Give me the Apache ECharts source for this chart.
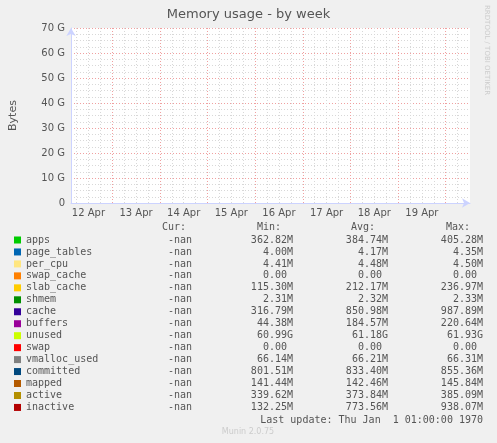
<!DOCTYPE html>
<html><head><meta charset="utf-8">
<script src="https://cdn.jsdelivr.net/npm/echarts@6/dist/echarts.min.js"></script>
<style>html,body{margin:0;padding:0;background:#f0f0f0}#c{width:497px;height:443px}</style>
</head><body><div id="c"></div>
<script>
const names=['apps','page_tables','per_cpu','swap_cache','slab_cache','shmem','cache','buffers','unused','swap','vmalloc_used','committed','mapped','active','inactive'];
const colors=['#00cc00','#0066b3','#ffe680','#ff8000','#ffcc00','#008f00','#330099','#990099','#ccff00','#ff0000','#808080','#00487d','#b35a00','#b38f00','#b30000'];
const curVals=Array(15).fill('-nan');
const minVals=['362.82M','4.00M','4.41M','0.00','115.30M','2.31M','316.79M','44.38M','60.99G','0.00','66.14M','801.51M','141.44M','339.62M','132.25M'];
const avgVals=['384.74M','4.17M','4.48M','0.00','212.17M','2.32M','850.98M','184.57M','61.18G','0.00','66.21M','833.40M','142.46M','373.84M','773.56M'];
const maxVals=['405.28M','4.35M','4.50M','0.00','236.97M','2.33M','987.89M','220.64M','61.93G','0.00','66.31M','855.36M','145.84M','385.09M','938.07M'];
const dayLabels=['12 Apr','13 Apr','14 Apr','15 Apr','16 Apr','17 Apr','18 Apr','19 Apr'];
const dayLines=[1,2,3,4,5,6,7,8];
const labelPos=[0.5,1.5,2.5,3.5,4.5,5.5,6.5,7.5];
const quarterLines=[];for(let d=0.25;d<8.5;d+=0.25){if(Math.abs(d-Math.round(d))>0.01)quarterLines.push(d);}
const xMin=0.135,xMax=8.51;

const mono='"DejaVu Sans Mono", monospace';
const g=[];
function pad(s){return /[MG]$/.test(s)?s:s+' ';}
g.push({type:'text',style:{text:'Cur:',x:186,y:227,align:'right',verticalAlign:'middle',font:'10px '+mono,fill:'#555'}});
g.push({type:'text',style:{text:'Min:',x:281,y:227,align:'right',verticalAlign:'middle',font:'10px '+mono,fill:'#555'}});
g.push({type:'text',style:{text:'Avg:',x:375,y:227,align:'right',verticalAlign:'middle',font:'10px '+mono,fill:'#555'}});
g.push({type:'text',style:{text:'Max:',x:470,y:227,align:'right',verticalAlign:'middle',font:'10px '+mono,fill:'#555'}});
names.forEach((n,i)=>{
  const y=240+i*11.96;
  g.push({type:'rect',shape:{x:14,y:y-3.5,width:7,height:7},style:{fill:colors[i]}});
  g.push({type:'text',style:{text:n,x:26,y:y,verticalAlign:'middle',font:'10px '+mono,fill:'#555'}});
  g.push({type:'text',style:{text:curVals[i],x:192,y:y,align:'right',verticalAlign:'middle',font:'10px '+mono,fill:'#555'}});
  g.push({type:'text',style:{text:pad(minVals[i]),x:293,y:y,align:'right',verticalAlign:'middle',font:'10px '+mono,fill:'#555'}});
  g.push({type:'text',style:{text:pad(avgVals[i]),x:388,y:y,align:'right',verticalAlign:'middle',font:'10px '+mono,fill:'#555'}});
  g.push({type:'text',style:{text:pad(maxVals[i]),x:483,y:y,align:'right',verticalAlign:'middle',font:'10px '+mono,fill:'#555'}});
});
g.push({type:'text',style:{text:'Last update: Thu Jan  1 01:00:00 1970',x:483,y:420,align:'right',verticalAlign:'middle',font:'10px '+mono,fill:'#555'}});
g.push({type:'text',style:{text:'Munin 2.0.75',x:248,y:432,align:'center',verticalAlign:'middle',font:'8px "DejaVu Sans"',fill:'#ccc'}});
g.push({type:'text',rotation:-Math.PI/2,x:487,y:5,style:{text:'RRDTOOL / TOBI OETIKER',x:0,y:0,align:'left',verticalAlign:'middle',font:'7px "DejaVu Sans"',fill:'#ccc'}});

const chart=echarts.init(document.getElementById('c'));
chart.setOption({
  backgroundColor:'#f0f0f0',animation:false,
  title:{text:'Memory usage - by week',left:'center',top:3,textStyle:{fontFamily:'DejaVu Sans',fontSize:13,fontWeight:'normal',color:'#555'}},
  grid:{left:67,right:27,top:28,bottom:240,show:true,backgroundColor:'#fff',borderWidth:0},
  xAxis:{type:'value',min:xMin,max:xMax,
    axisLine:{lineStyle:{color:'#ccd3ff'},symbol:['none','arrow'],symbolSize:[7,8]},
    axisTick:{show:false},splitLine:{show:false},
    axisLabel:{customValues:labelPos,formatter:v=>dayLabels[Math.round(v-0.5)]||'',color:'#555',fontFamily:'DejaVu Sans',fontSize:10,margin:5}},
  yAxis:{type:'value',min:0,max:70,interval:10,name:'Bytes',nameLocation:'middle',nameGap:52,
    nameTextStyle:{fontFamily:'DejaVu Sans',fontSize:11,color:'#555'},
    axisLine:{show:true,lineStyle:{color:'#ccd3ff'},symbol:['none','arrow'],symbolSize:[7,8]},
    axisTick:{show:false},
    axisLabel:{formatter:v=>v===0?'0':v+' G',color:'#555',fontFamily:'DejaVu Sans',fontSize:10,margin:6},
    splitLine:{lineStyle:{color:'#f0a0a0',type:[1,2]}},
    minorTick:{show:false,splitNumber:4},
    minorSplitLine:{show:true,lineStyle:{color:'#d8d8d8',type:[1,2]}}},
  graphic:g,
  series:[{type:'line',data:[],silent:true,
    markLine:{symbol:'none',silent:true,label:{show:false},animation:false,
      data:[...quarterLines.map(d=>({xAxis:d,lineStyle:{color:'#d8d8d8',type:[1,2],width:1}})),
            ...dayLines.map(d=>({xAxis:d,lineStyle:{color:'#f0a0a0',type:[1,2],width:1}}))]}}]
});
</script></body></html>
